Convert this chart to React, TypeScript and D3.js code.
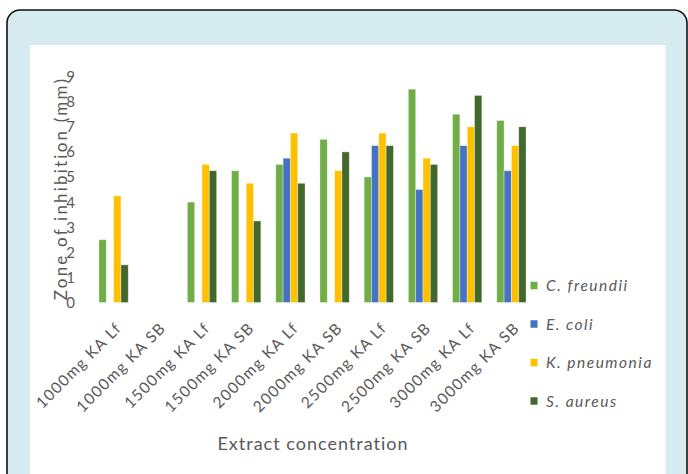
import React from "react";
import * as d3 from "d3";

const categories = [
  "1000mg KA Lf",
  "1000mg KA SB",
  "1500mg KA Lf",
  "1500mg KA SB",
  "2000mg KA Lf",
  "2000mg KA SB",
  "2500mg KA Lf",
  "2500mg KA SB",
  "3000mg KA Lf",
  "3000mg KA SB",
];

const seriesNames = ["C. freundii", "E. coli", "K. pneumonia", "S. aureus"];
const cFreundii = [2.5, 0, 4, 5.25, 5.5, 6.5, 5, 8.5, 7.5, 7.25];
const eColi = [0, 0, 0, 0, 5.75, 0, 6.25, 4.5, 6.25, 5.25];
const kPneumonia = [4.25, 0, 5.5, 4.75, 6.75, 5.25, 6.75, 5.75, 7, 6.25];
const sAureus = [1.5, 0, 5.25, 3.25, 4.75, 6, 6.25, 5.5, 8.25, 7];
const seriesColors = ["#70ad47", "#4472c4", "#ffc000", "#43682b"];
const yTicks = [0, 1, 2, 3, 4, 5, 6, 7, 8, 9];

const seriesValues = [cFreundii, eColi, kPneumonia, sAureus];

const W = 688;
const H = 474;
const FONT = "Lato, 'Open Sans', sans-serif";
const TEXT = "#595959";

export default function App() {
  const x = d3
    .scaleBand<string>()
    .domain(categories)
    .range([91.5, 533.5])
    .paddingInner(0.337)
    .paddingOuter(0.1685);
  const xs = d3
    .scaleBand<string>()
    .domain(seriesNames)
    .range([0, x.bandwidth()])
    .padding(0);
  const y = d3.scaleLinear().domain([0, 9]).range([302.5, 76.6]);

  return (
    <svg
      width={W}
      height={H}
      style={{ position: "absolute", left: 0, top: 0 }}
      fontFamily={FONT}
    >
      <rect x={0} y={0} width={W} height={H} fill="#ffffff" />
      <rect
        x={7}
        y={10}
        width={680}
        height={520}
        rx={13}
        fill="#d7ecf1"
        stroke="#111"
        strokeWidth={1.6}
      />
      <rect x={30} y={45} width={635.5} height={440} fill="#ffffff" />

      {/* bars */}
      {seriesNames.map((s, si) => (
        <g key={s} fill={seriesColors[si]}>
          {categories.map((c, ci) => {
            const v = seriesValues[si][ci];
            if (!v) return null;
            return (
              <rect
                key={c}
                x={(x(c) ?? 0) + (xs(s) ?? 0)}
                y={y(v)}
                width={xs.bandwidth()}
                height={y(0) - y(v)}
                stroke="rgba(255,255,255,0.45)"
                strokeWidth={0.8}
              />
            );
          })}
        </g>
      ))}

      {/* y tick labels */}
      {yTicks.map((t) => (
        <text
          key={t}
          x={75}
          y={y(t)}
          dy="0.36em"
          textAnchor="end"
          fontSize={15}
          fill={TEXT}
        >
          {t}
        </text>
      ))}

      {/* y axis title */}
      <text
        transform={`translate(67,${(y(0) + y(9)) / 2 - 1}) rotate(-90)`}
        textAnchor="middle"
        fontSize={17}
        letterSpacing={2.2}
        fill={TEXT}
      >
        Zone of inhibition (mm)
      </text>

      {/* x tick labels */}
      {categories.map((c) => (
        <text
          key={c}
          transform={`translate(${(x(c) ?? 0) + x.bandwidth() / 2 + 9},${329}) rotate(-45)`}
          textAnchor="end"
          fontSize={15.5}
          letterSpacing={1.3}
          fill={TEXT}
        >
          {c}
        </text>
      ))}

      {/* x axis title */}
      <text
        x={313}
        y={450}
        textAnchor="middle"
        fontSize={18}
        letterSpacing={1}
        fill={TEXT}
      >
        Extract concentration
      </text>

      {/* legend */}
      {seriesNames.map((s, i) => {
        const cy = 285.5 + i * 38.5;
        return (
          <g key={s}>
            <rect x={530.5} y={cy - 3.75} width={7} height={7.5} fill={seriesColors[i]} />
            <text
              x={546}
              y={cy}
              dy="0.36em"
              fontSize={15.5}
              fontStyle="italic"
              letterSpacing={1.5}
              fill={TEXT}
            >
              {s}
            </text>
          </g>
        );
      })}
    </svg>
  );
}
